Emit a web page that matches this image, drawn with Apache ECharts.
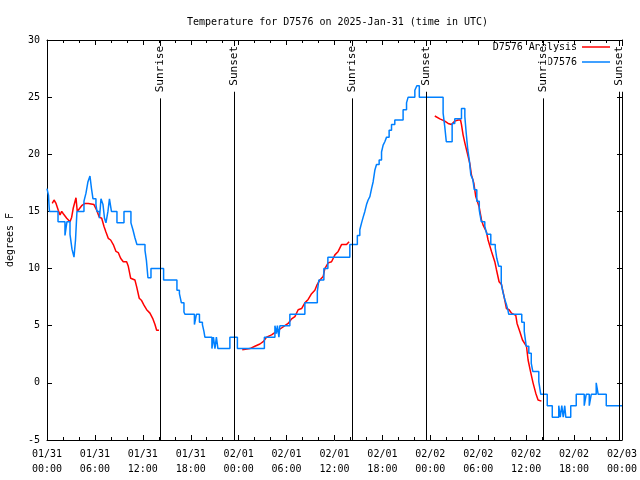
<!DOCTYPE html>
<html><head><meta charset="utf-8">
<script src="https://cdn.jsdelivr.net/npm/echarts@6/dist/echarts.min.js"></script>
<style>html,body{margin:0;padding:0;background:#fff}#c{width:640px;height:480px}</style>
</head><body><div id="c"></div>
<script>
// hours since 2025-01-31 00:00 UTC
const titleText = 'Temperature for D7576 on 2025-Jan-31 (time in UTC)';
const yAxisName = 'degrees F';
const seriesNames = ['D7576 Analysis', 'D7576'];
const events = [['Sunrise', 14.2], ['Sunset', 23.45], ['Sunrise', 38.2], ['Sunset', 47.52], ['Sunrise', 62.1], ['Sunset', 71.62]];

const observed = [
 [0,17.0],[0.19,16.4],[0.25,15.6],[0.31,15.0],[1.38,14.1],[2.25,12.9],[2.50,14.1],[2.88,13.0],[3.13,11.7],[3.38,11.0],
 [3.57,12.5],[3.75,15.0],[4.63,15.9],[4.88,16.6],[5.13,17.6],[5.38,18.1],[5.57,17.0],[5.76,16.1],[6.13,15.6],[6.26,15.0],
 [6.57,14.4],[6.76,16.1],[7.01,15.6],[7.20,14.4],[7.38,14.0],[7.63,15.0],[7.82,16.1],[8.07,15.0],[8.76,14.0],[9.64,15.0],
 [10.51,14.0],[10.76,13.4],[11.01,12.7],[11.26,12.1],[12.27,11.6],[12.45,10.7],[12.64,9.2],[13.02,10.0],[14.6,9.0],[16.27,8.1],
 [16.58,7.8],[16.83,7.0],[17.15,6.2],[17.27,6.0],[18.46,5.1],[18.71,6.0],[19.09,5.3],[19.46,5.1],[19.65,4.5],[19.77,4.0],
 [20.65,3.0],[20.84,4.0],[21.03,3.0],[21.21,4.0],[21.40,3.0],[22.90,4.0],[23.84,3.0],[27.22,4.0],[28.54,5.0],[28.72,4.3],
 [28.85,5.0],[29.04,4.0],[29.16,5.0],[30.41,6.0],[32.29,7.0],[33.85,8.0],[34.04,9.0],[34.67,10.0],[35.17,11.0],[37.92,12.1],
 [38.86,12.9],[39.17,13.4],[39.39,14.0],[39.59,14.5],[39.80,15.0],[40.01,15.6],[40.21,16.0],[40.43,16.3],[40.64,17.0],[40.84,17.6],
 [41.05,18.6],[41.26,19.1],[41.59,19.5],[41.89,20.2],[42.09,20.8],[42.30,21.1],[42.52,21.5],[42.84,22.1],[43.14,22.6],[43.55,23.0],
 [44.59,23.9],[45.02,24.5],[45.22,25.0],[46.06,25.6],[46.31,26.0],[46.62,25.0],[49.60,23.6],[49.81,22.4],[50.00,21.1],[50.73,22.7],
 [51.06,23.1],[51.90,24.0],[52.32,23.3],[52.50,21.8],[52.69,20.4],[52.88,19.5],[53.07,18.2],[53.32,17.8],[53.50,16.9],[53.82,15.9],
 [54.13,15.1],[54.38,14.1],[54.82,13.7],[55.07,13.0],[55.57,12.1],[56.13,11.8],[56.32,10.9],[56.57,10.2],[56.88,8.7],[57.07,8.0],
 [57.32,7.3],[57.51,6.9],[57.70,6.4],[57.82,6.0],[59.45,5.3],[59.76,4.5],[60.01,3.2],[60.33,2.6],[60.64,1.7],[60.83,1.0],
 [61.58,0.1],[61.83,-1.0],[62.64,-2.0],[63.27,-3.0],[64.08,-2.0],[64.27,-3.0],[64.46,-2.0],[64.64,-3.0],[64.83,-2.0],[64.96,-3.0],
 [65.58,-2.0],[66.27,-1.0],[67.27,-2.0],[67.52,-1.0],[67.90,-2.0],[68.15,-1.0],[68.77,0.0],[69.02,-1.0],[70.03,-2.0],[72,-2.0]
];

const analysis = [
 [0.66,15.7],[0.88,16.0],[1.13,15.7],[1.41,15.1],[1.63,14.7],[1.84,15.0],[2.04,14.8],[2.47,14.4],[2.88,14.1],[3.09,14.5],
 [3.29,15.3],[3.63,16.2],[3.79,15.0],[4.04,15.1],[4.34,15.5],[4.76,15.7],[5.17,15.7],[5.88,15.6],[6.22,15.1],[6.55,14.5],
 [6.85,14.4],[7.13,13.7],[7.38,13.2],[7.67,12.65],[7.97,12.5],[8.30,12.1],[8.64,11.5],[8.92,11.4],[9.22,10.9],[9.55,10.6],
 [9.97,10.6],[10.18,10.2],[10.48,9.15],[11.01,9.0],[11.23,8.4],[11.55,7.4],[11.85,7.2],[12.14,6.8],[12.48,6.4],[12.89,6.1],
 [13.23,5.65],[13.52,5.1],[13.73,4.6],[14.02,4.6],
 [19.0,null],
 [24.45,2.9],[25.41,3.0],[26.03,3.2],[26.66,3.4],[27.07,3.6],[27.50,4.0],[28.12,4.2],[28.75,4.5],[29.37,4.8],[29.79,5.0],
 [30.20,5.2],[30.63,5.6],[31.04,5.8],[31.45,6.4],[31.88,6.5],[32.29,7.0],[32.70,7.3],[33.13,7.8],[33.54,8.1],[33.83,8.6],
 [34.17,9.0],[34.58,9.3],[34.79,10.0],[35.21,10.5],[35.63,10.6],[36.05,11.2],[36.46,11.5],[36.88,12.1],[37.51,12.1],[37.83,12.35],
 [43.0,null],
 [48.56,23.35],[49.19,23.1],[49.81,22.9],[50.23,22.7],[50.65,22.6],[51.06,22.9],[51.48,23.0],[51.78,23.0],[51.90,22.6],[52.10,21.7],
 [52.32,21.0],[52.53,20.4],[52.73,20.3],[52.94,19.2],[53.15,18.2],[53.44,17.5],[53.69,16.3],[54.11,15.4],[54.41,14.25],[54.61,13.8],
 [55.03,13.2],[55.23,12.5],[55.66,11.5],[56.07,10.6],[56.28,9.9],[56.61,8.85],[56.91,8.6],[57.32,7.25],[57.53,6.5],[57.86,6.4],
 [58.16,6.1],[58.70,5.9],[58.86,5.2],[59.20,4.5],[59.54,3.75],[60.04,3.2],[60.24,2.0],[60.54,1.0],[60.86,0.0],[61.20,-0.9],
 [61.49,-1.5],[61.91,-1.6]
];

const START = Date.UTC(2025, 0, 31);
const FONT = 'DejaVu Sans Mono';
function p2(n){ return String(n).padStart(2, '0'); }
function fmt(h){
  const d = new Date(START + h * 3600000);
  return p2(d.getUTCMonth() + 1) + '/' + p2(d.getUTCDate()) + '\n' + p2(d.getUTCHours()) + ':' + p2(d.getUTCMinutes());
}
const txt = {fontFamily: FONT, fontSize: 10, color: '#000'};
const blackLine = {onZero: false, lineStyle: {color: '#000', width: 1}};

const chart = echarts.init(document.getElementById('c'), null, {renderer: 'canvas'});
chart.setOption({
  animation: false,
  backgroundColor: '#fff',
  title: {text: titleText, left: 182, top: 12, textStyle: Object.assign({fontWeight: 'normal'}, txt)},
  grid: {left: 47, right: 18, top: 40, bottom: 40, containLabel: false, outerBoundsMode: 'none'},
  legend: [
    {data: [seriesNames[0]], right: 30, top: 42, padding: 0, align: 'right', icon: 'rect', itemWidth: 28, itemHeight: 1.5, textStyle: txt, selectedMode: false},
    {data: [seriesNames[1]], right: 30, top: 57, padding: 0, align: 'right', icon: 'rect', itemWidth: 28, itemHeight: 1.5, textStyle: txt, selectedMode: false}
  ],
  xAxis: [
    {type: 'value', min: 0, max: 72, interval: 6, position: 'bottom',
     axisLine: blackLine, axisTick: {inside: true, length: 5, lineStyle: {color: '#000'}},
     minorTick: {show: true, splitNumber: 3, length: 3, lineStyle: {color: '#000'}},
     axisLabel: Object.assign({formatter: fmt, margin: 7, lineHeight: 15, showMinLabel: true, showMaxLabel: true}, txt),
     splitLine: {show: false}},
    {type: 'value', min: 0, max: 72, interval: 6, position: 'top',
     axisLine: blackLine, axisTick: {inside: true, length: 5, lineStyle: {color: '#000'}},
     minorTick: {show: true, splitNumber: 3, length: 3, lineStyle: {color: '#000'}},
     axisLabel: {show: false}, splitLine: {show: false}}
  ],
  yAxis: [
    {type: 'value', min: -5, max: 30, interval: 5, position: 'left',
     name: yAxisName, nameLocation: 'middle', nameGap: 32, nameTextStyle: txt,
     axisLine: Object.assign({show: true}, blackLine), axisTick: {show: true, inside: true, length: 5, lineStyle: {color: '#000'}},
     axisLabel: Object.assign({margin: 7}, txt), splitLine: {show: false}},
    {type: 'value', min: -5, max: 30, interval: 5, position: 'right',
     axisLine: Object.assign({show: true}, blackLine), axisTick: {show: true, inside: true, length: 5, lineStyle: {color: '#000'}},
     axisLabel: {show: false}, splitLine: {show: false}}
  ],
  series: [
    {name: seriesNames[0], type: 'line', data: analysis, color: '#ff0000', showSymbol: false, symbol: 'none',
     lineStyle: {width: 1.5, color: '#ff0000'}, connectNulls: false,
     markLine: {silent: true, symbol: ['none', 'none'], animation: false,
       lineStyle: {color: '#000', width: 1, type: 'solid'},
       label: {show: true, position: 'insideEnd', formatter: '{b}', fontFamily: FONT, fontSize: 11, color: '#000',
               backgroundColor: '#fff', padding: [0, 0, 0, 6], distance: 6},
       emphasis: {disabled: true},
       data: events.map(e => ({name: e[0], xAxis: e[1]}))}},
    {name: seriesNames[1], type: 'line', step: 'end', data: observed, color: '#0080ff', showSymbol: false, symbol: 'none',
     lineStyle: {width: 1.5, color: '#0080ff'}}
  ]
});
</script></body></html>
